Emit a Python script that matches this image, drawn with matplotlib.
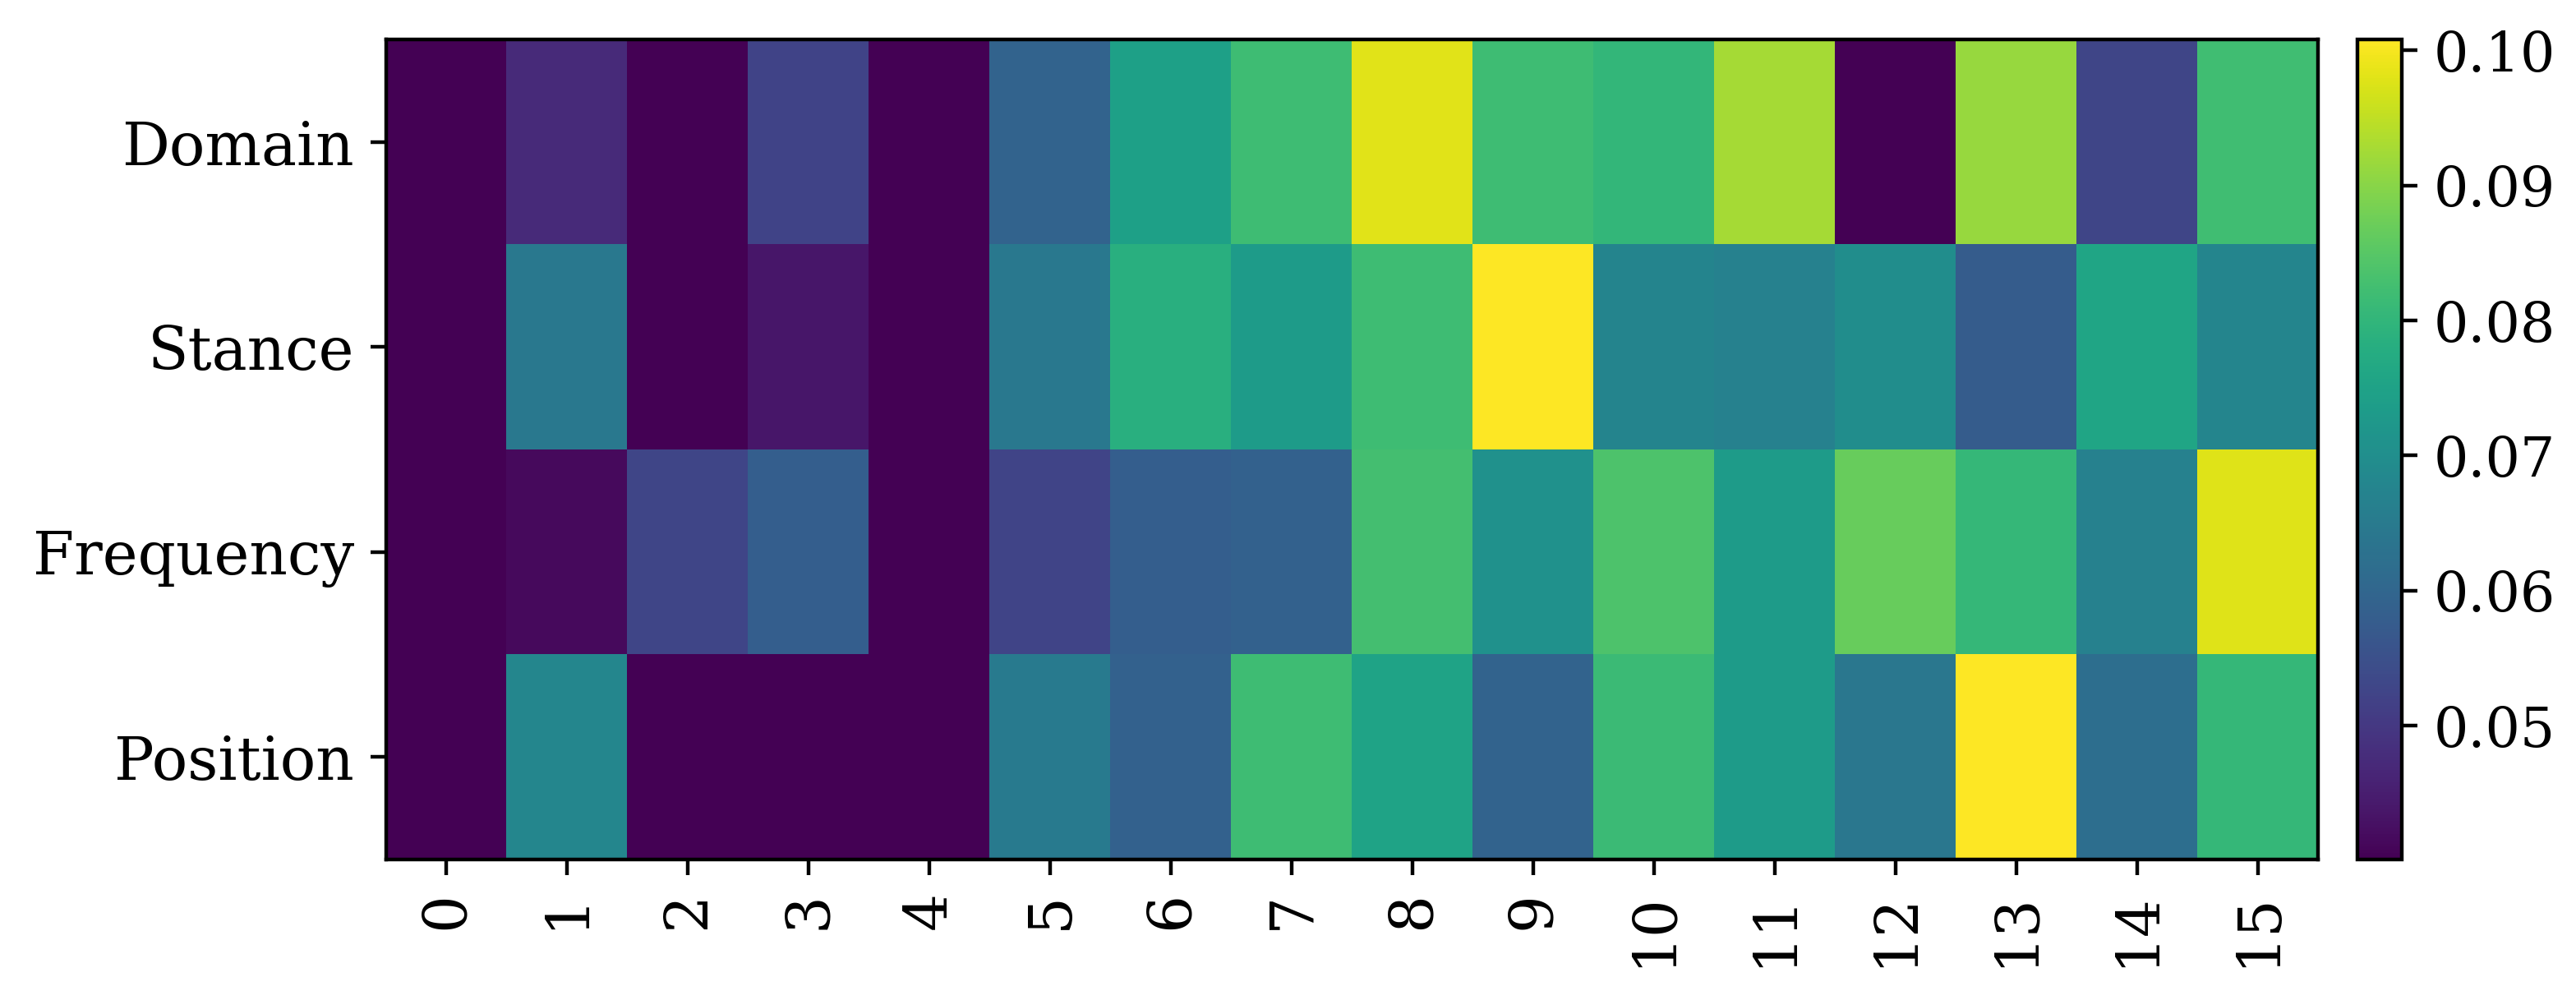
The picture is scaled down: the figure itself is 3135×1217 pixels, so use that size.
import matplotlib
matplotlib.use("Agg")
import matplotlib.pyplot as plt
import numpy as np

plt.rcParams['font.family'] = 'serif'

# rows of the heatmap, top to bottom
labels = ["Domain", "Stance", "Frequency", "Position"]
columns = [str(i) for i in range(16)]

domain = [0.0401, 0.0474, 0.0401, 0.0522, 0.0401, 0.0595, 0.0747, 0.0820,
          0.0981, 0.0820, 0.0802, 0.0926, 0.0401, 0.0914, 0.0528, 0.0823]
stance = [0.0401, 0.0644, 0.0401, 0.0437, 0.0401, 0.0644, 0.0783, 0.0735,
          0.0820, 0.1008, 0.0674, 0.0668, 0.0698, 0.0577, 0.0759, 0.0677]
frequency = [0.0401, 0.0416, 0.0528, 0.0583, 0.0401, 0.0525, 0.0583, 0.0589,
             0.0826, 0.0708, 0.0838, 0.0735, 0.0868, 0.0805, 0.0668, 0.0978]
position = [0.0401, 0.0680, 0.0401, 0.0401, 0.0401, 0.0650, 0.0589, 0.0820,
            0.0753, 0.0595, 0.0814, 0.0735, 0.0641, 0.1008, 0.0620, 0.0805]

data = np.array([domain, stance, frequency, position])

fig = plt.figure(figsize=(3135 / 400, 1217 / 400), dpi=400)
ax = fig.add_axes([470 / 3135, 1 - 1046 / 1217, 2351 / 3135, 998 / 1217])
cax = fig.add_axes([2869 / 3135, 1 - 1046 / 1217, 54 / 3135, 998 / 1217])

im = ax.imshow(data, cmap='viridis', aspect='auto')
ax.set_yticks(range(len(labels)))
ax.set_yticklabels(labels, fontsize=13)
ax.set_xticks(range(len(columns)))
ax.set_xticklabels(columns, fontsize=13, rotation=90)

cb = fig.colorbar(im, cax=cax)
cb.set_ticks([0.05, 0.06, 0.07, 0.08, 0.09, 0.10])
cb.ax.tick_params(labelsize=12)

fig.savefig("out.png", dpi=400)
